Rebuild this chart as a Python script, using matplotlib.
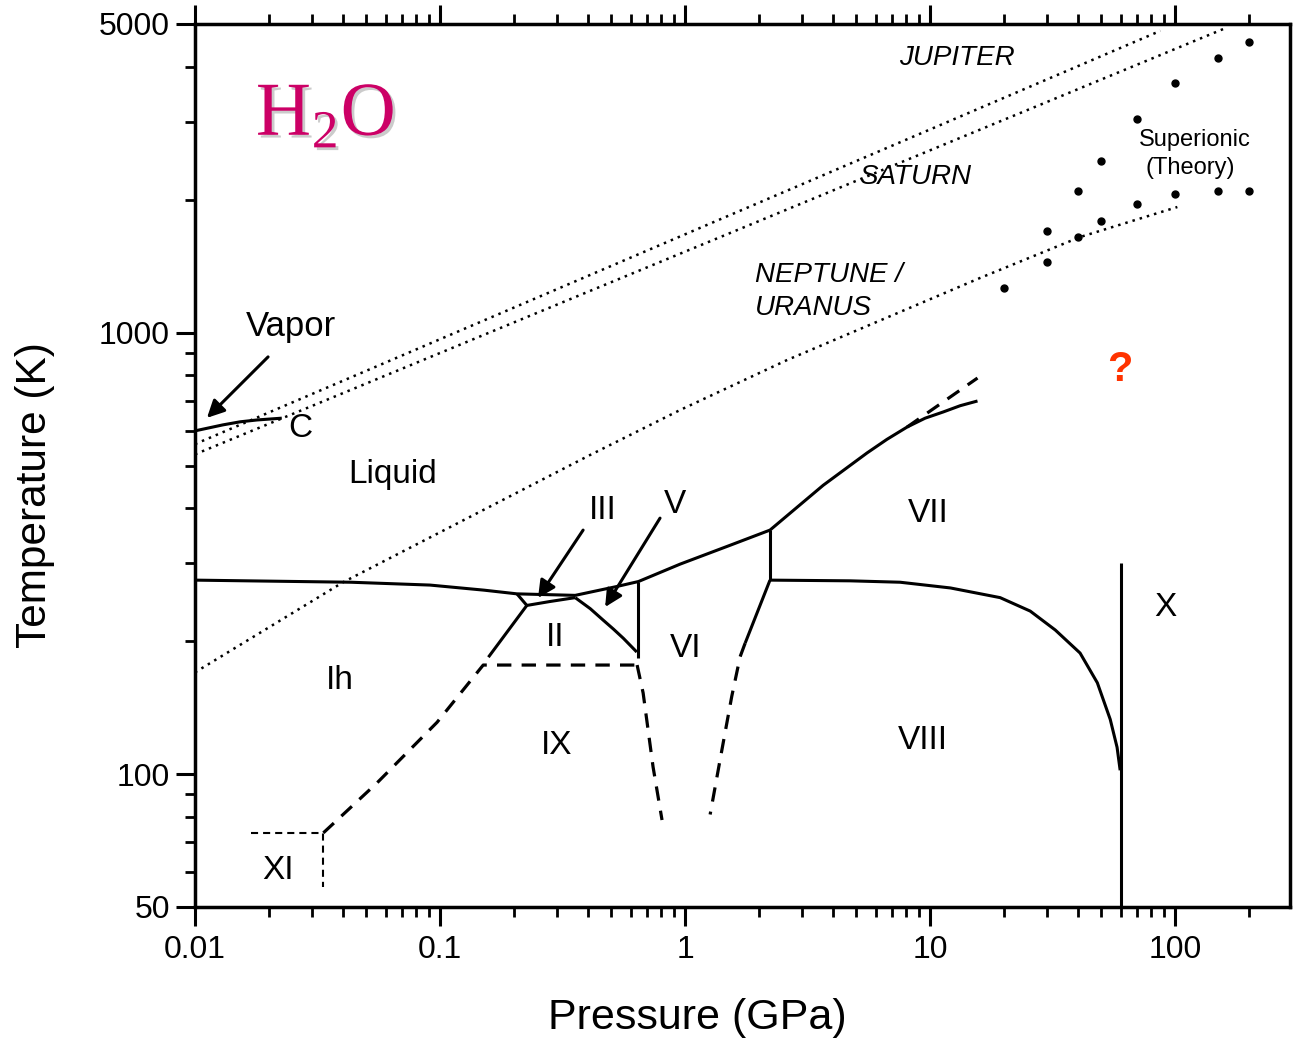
import numpy as np
import matplotlib
matplotlib.use("Agg")
import matplotlib.pyplot as plt
import matplotlib.patheffects as pe
from matplotlib.ticker import LogLocator, NullFormatter

plt.rcParams['font.family'] = ['Liberation Sans', 'DejaVu Sans']
plt.rcParams['mathtext.fontset'] = 'custom'
plt.rcParams['mathtext.rm'] = 'Liberation Serif'

# pressure in GPa, temperature in K

# liquid - vapor line up to critical point C
vap_p = [0.01, 0.0130, 0.0153, 0.0179, 0.0226]
vap_t = [599, 618, 628, 634, 640]

# melting curve Ih / III / V / VI / VII
melt_p = [0.01, 0.0433, 0.091, 0.151, 0.206, 0.356, 0.526, 0.645, 0.955, 1.53, 2.22,
          3.66, 5.53, 6.66, 8.05, 9.54, 11.3, 13.26, 15.6]
melt_t = [275, 272, 268, 261, 256, 254, 266, 273, 299, 330, 357,
          451, 534, 573, 611, 640, 661, 683, 700]
# dashed branch of the VII melting curve
meltx_p = [8.05, 15.6]
meltx_t = [611, 789]

# solid phase boundaries
ih_iii_p = [0.206, 0.226]
ih_iii_t = [256, 241]
ii_iii_p = [0.226, 0.281, 0.356]
ii_iii_t = [241, 246, 251]
ih_ii_p = [0.226, 0.1575]
ih_ii_t = [241, 184]
ii_v_p = [0.356, 0.41, 0.464, 0.51, 0.56, 0.635]
ii_v_t = [251, 237, 223, 213, 203, 189]
v_vi_p = [0.645, 0.645]
v_vi_t = [273, 183]
vi_vii_p = [2.22, 2.22]
vi_vii_t = [357, 275]
vi_viii_p = [2.22, 1.758]
vi_viii_t = [275, 198]
vii_viii_p = [2.22, 4.72, 7.54, 12.1, 19.3, 25.6, 32.4, 40.9, 48.1, 54.3, 57.9, 59.6]
vii_viii_t = [275, 274, 272, 264, 251, 234, 212, 188, 161, 133, 115, 102]
vii_x_p = [60.0, 60.0]
vii_x_t = [300, 50]

# dashed (uncertain) boundaries
ix_p = [0.0334, 0.0553, 0.0972, 0.15, 0.637]
ix_t = [73.6, 95.5, 131, 176.6, 176.6]
ix_vi_p = [0.637, 0.674, 0.74, 0.805]
ix_vi_t = [176.6, 152.7, 103.8, 78.7]
viii_p = [1.758, 1.677, 1.55, 1.39, 1.265]
viii_t = [198, 184.5, 150, 108, 81]
xi_p = [0.0170, 0.0334, 0.0334]
xi_t = [73.6, 73.6, 55.6]

# planetary isentropes (dotted)
jup_p = [0.01, 87]
jup_t = [559, 4825]
sat_p = [0.01, 157]
sat_t = [530, 4870]
nep_p = [0.01, 0.0402, 0.409, 0.955, 2.61, 16.0, 40.9, 102]
nep_t = [170, 272, 528, 668, 867, 1330, 1646, 1925]

# superionic phase, theory points
sup_hi_p = [20, 30, 40, 50, 70, 100, 150, 200]
sup_hi_t = [1260, 1700, 2090, 2450, 3050, 3680, 4190, 4550]
sup_lo_p = [30, 40, 50, 70, 100, 150, 200]
sup_lo_t = [1445, 1645, 1790, 1955, 2060, 2090, 2090]

# phase labels
phases = ['Liquid', 'Ih', 'II', 'VI', 'VII', 'VIII', 'IX', 'XI', 'X']
phase_p = [0.0643, 0.039, 0.295, 1.0, 9.8, 9.3, 0.298, 0.0218, 91]
phase_t = [476, 163, 204, 193, 390, 119, 116, 60.6, 239]

fig = plt.figure(figsize=(12.93, 10.41), dpi=100)
ax = fig.add_axes([195/1293, 134/1041, 1095/1293, 883/1041])
ax.set_xscale('log')
ax.set_yscale('log')
ax.set_xlim(0.01, 294)
ax.set_ylim(50, 5000)

solid = dict(color='k', lw=2.2, solid_capstyle='butt', solid_joinstyle='round')
dash = dict(color='k', lw=2.3, linestyle=(0, (4.5, 3.2)))
dots = dict(color='k', lw=1.8, linestyle=(0, (1, 2.0)))

ax.plot(vap_p, vap_t, **solid)
ax.plot(melt_p, melt_t, **solid)
ax.plot(meltx_p, meltx_t, **dash)
for p, t in [(ih_iii_p, ih_iii_t), (ii_iii_p, ii_iii_t), (ih_ii_p, ih_ii_t),
             (ii_v_p, ii_v_t), (v_vi_p, v_vi_t), (vi_vii_p, vi_vii_t),
             (vi_viii_p, vi_viii_t), (vii_viii_p, vii_viii_t), (vii_x_p, vii_x_t)]:
    ax.plot(p, t, **solid)
for p, t in [(ix_p, ix_t), (ix_vi_p, ix_vi_t), (viii_p, viii_t)]:
    ax.plot(p, t, **dash)
ax.plot(xi_p, xi_t, color='k', lw=1.5, linestyle=(0, (3.4, 2.4)))

ax.plot(jup_p, jup_t, **dots)
ax.plot(sat_p, sat_t, **dots)
ax.plot(nep_p, nep_t, **dots)

ax.plot(sup_hi_p, sup_hi_t, 'ko', ms=5)
ax.plot(sup_lo_p, sup_lo_t, 'ko', ms=5)

# labels
for name, p, t in zip(phases, phase_p, phase_t):
    ax.text(p, t, name, fontsize=24, ha='center', va='center')

arrow = dict(arrowstyle='-|>', color='k', lw=2.2, mutation_scale=26,
             shrinkA=0, shrinkB=0)
ax.text(0.0246, 1030, 'Vapor', fontsize=25, ha='center', va='center')
ax.annotate('', xy=(0.01119, 641), xytext=(0.01987, 881), arrowprops=arrow)
ax.text(0.024, 608, 'C', fontsize=24, ha='left', va='center')
ax.text(0.463, 396, 'III', fontsize=24, ha='center', va='center')
ax.annotate('', xy=(0.251, 250.6), xytext=(0.3835, 357), arrowprops=arrow)
ax.text(0.91, 407, 'V', fontsize=24, ha='center', va='center')
ax.annotate('', xy=(0.4716, 239), xytext=(0.79, 380), arrowprops=arrow)

ax.text(12.9, 4188, 'JUPITER', fontsize=20, style='italic', ha='center', va='center')
ax.text(8.69, 2252, 'SATURN', fontsize=20, style='italic', ha='center', va='center')
ax.text(1.93, 1351, 'NEPTUNE /', fontsize=20, style='italic', ha='left', va='center')
ax.text(1.93, 1137, 'URANUS', fontsize=20, style='italic', ha='left', va='center')
ax.text(120.6, 2731, 'Superionic', fontsize=17, ha='center', va='center')
ax.text(115, 2359, '(Theory)', fontsize=17, ha='center', va='center')
ax.text(59.6, 823, '?', fontsize=30, fontweight='bold', color='#ff3300',
        ha='center', va='center')

ax.text(0.034, 3080, r'H$_\mathrm{2}$O', family='Liberation Serif', fontsize=55,
        color='#cc0066', ha='center', va='center',
        path_effects=[pe.withSimplePatchShadow(offset=(2, -2), shadow_rgbFace='#999999', alpha=0.5)])

# axes
ax.set_xticks([0.01, 0.1, 1, 10, 100])
ax.set_xticklabels(['0.01', '0.1', '1', '10', '100'])
ax.xaxis.set_minor_locator(LogLocator(base=10, subs=np.arange(2, 10), numticks=20))
ax.xaxis.set_minor_formatter(NullFormatter())
ax.set_yticks([50, 100, 1000, 5000])
ax.set_yticklabels(['50', '100', '1000', '5000'])
ax.set_yticks([60, 70, 80, 90, 200, 300, 400, 500, 600, 700, 800, 900,
               2000, 3000, 4000], minor=True)
ax.yaxis.set_minor_formatter(NullFormatter())

ax.tick_params(which='major', direction='out', length=14, width=2.2,
               labelsize=23, top=True, right=False, pad=6)
ax.tick_params(which='minor', direction='out', length=7, width=2.0,
               top=True, right=False)
ax.tick_params(axis='y', which='major', pad=4)
for s in ax.spines.values():
    s.set_linewidth(2.5)

ax.set_xlabel('Pressure (GPa)', fontsize=31)
ax.xaxis.set_label_coords(0.459, -0.103)
ax.set_ylabel('Temperature (K)', fontsize=30.5)
ax.yaxis.set_label_coords(-0.128, 0.467)

fig.savefig('out.png', dpi=100)
